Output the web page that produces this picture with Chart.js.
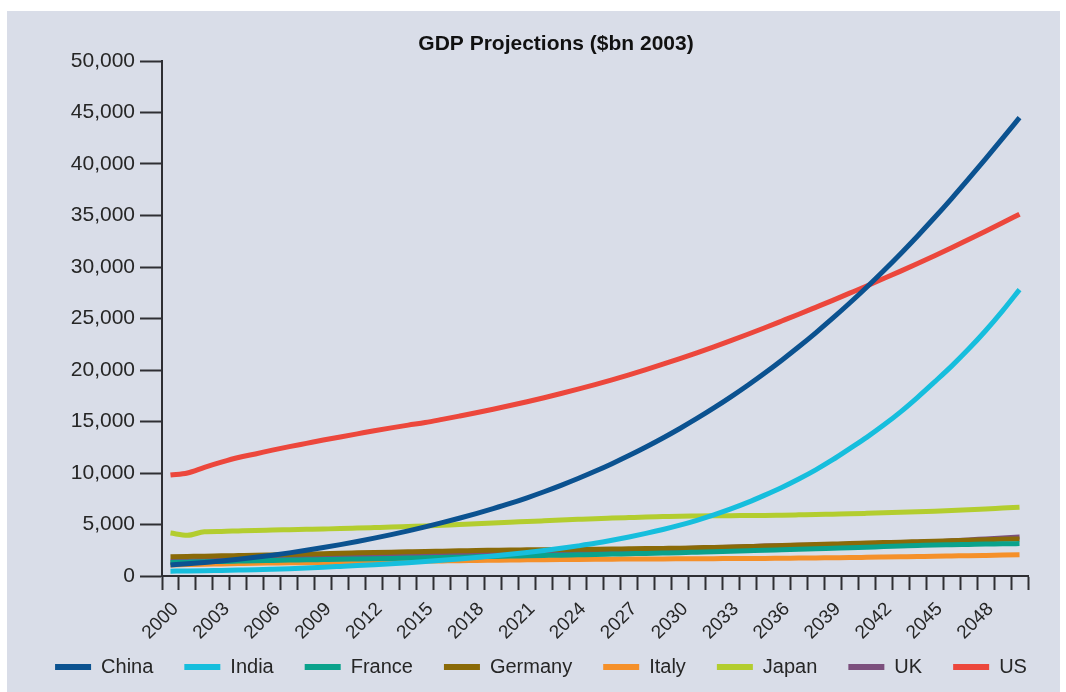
<!DOCTYPE html>
<html>
<head>
<meta charset="utf-8">
<title>GDP Projections</title>
<script src="https://cdn.jsdelivr.net/npm/chart.js@4"></script>
<style>
  html, body { margin: 0; padding: 0; background: #ffffff; overflow: hidden; }
  #panel { position: absolute; left: 7px; top: 11px; width: 1053px; height: 681px; background: #d9dde8; overflow: hidden; }
  canvas { display: block; }
</style>
</head>
<body>
<div id="panel"><canvas id="gdp" width="1053" height="697"></canvas></div>
<script>
// Years on the horizontal axis and the ones that carry a label
const years = [
  2000, 2001, 2002, 2003, 2004, 2005, 2006, 2007, 2008, 2009,
  2010, 2011, 2012, 2013, 2014, 2015, 2016, 2017, 2018, 2019,
  2020, 2021, 2022, 2023, 2024, 2025, 2026, 2027, 2028, 2029,
  2030, 2031, 2032, 2033, 2034, 2035, 2036, 2037, 2038, 2039,
  2040, 2041, 2042, 2043, 2044, 2045, 2046, 2047, 2048, 2049, 2050
];
const labelledYears = [2000, 2003, 2006, 2009, 2012, 2015, 2018, 2021, 2024, 2027,
                       2030, 2033, 2036, 2039, 2042, 2045, 2048];

// GDP, $bn (2003 prices), one value per year 2000-2050
const china = [
  1078, 1191, 1320, 1465, 1629, 1813, 2018, 2244, 2491, 2758,
  3045, 3350, 3675, 4020, 4386, 4772, 5178, 5608, 6062, 6541,
  7045, 7595, 8180, 8801, 9462, 10162, 10904, 11689, 12519, 13395,
  14319, 15293, 16318, 17395, 18525, 19711, 20953, 22252, 23609, 25026,
  26502, 28039, 29637, 31297, 33018, 34801, 36646, 38551, 40498, 42482, 44500
];
const india = [
  469, 490, 515, 545, 573, 604, 655, 715, 780, 850,
  929, 1010, 1098, 1193, 1297, 1411, 1528, 1655, 1793, 1942,
  2104, 2285, 2480, 2693, 2925, 3174, 3465, 3785, 4135, 4515,
  4935, 5410, 5935, 6510, 7145, 7854, 8600, 9420, 10310, 11290,
  12367, 13460, 14650, 15940, 17350, 18847, 20380, 22030, 23810, 25740, 27803
];
const france = [
  1311, 1345, 1380, 1417, 1453, 1489, 1515, 1542, 1568, 1595,
  1622, 1651, 1680, 1709, 1738, 1767, 1800, 1832, 1865, 1897,
  1930, 1962, 1994, 2025, 2057, 2089, 2125, 2160, 2196, 2231,
  2267, 2312, 2358, 2403, 2449, 2494, 2545, 2596, 2646, 2697,
  2748, 2801, 2855, 2908, 2962, 3015, 3042, 3068, 3095, 3121, 3148
];
const germany = [
  1875, 1900, 1925, 1955, 1983, 2011, 2050, 2090, 2130, 2170,
  2212, 2247, 2282, 2317, 2352, 2386, 2414, 2442, 2470, 2497,
  2524, 2540, 2556, 2572, 2588, 2604, 2622, 2641, 2660, 2678,
  2697, 2737, 2778, 2819, 2861, 2903, 2951, 3000, 3049, 3098,
  3147, 3194, 3241, 3288, 3334, 3381, 3425, 3470, 3514, 3558, 3603
];
const italy = [
  1078, 1110, 1142, 1173, 1205, 1236, 1256, 1276, 1297, 1317,
  1337, 1359, 1381, 1403, 1425, 1447, 1468, 1489, 1511, 1532,
  1553, 1567, 1582, 1596, 1611, 1625, 1634, 1643, 1653, 1662,
  1671, 1678, 1686, 1693, 1701, 1708, 1724, 1740, 1756, 1772,
  1788, 1813, 1838, 1862, 1887, 1912, 1942, 1972, 2001, 2031, 2061
];
const japan = [
  4176, 3950, 4300, 4330, 4380, 4427, 4460, 4495, 4530, 4565,
  4601, 4650, 4700, 4750, 4805, 4858, 4930, 5000, 5075, 5150,
  5221, 5290, 5360, 5430, 5500, 5567, 5620, 5670, 5720, 5765,
  5810, 5825, 5840, 5855, 5868, 5882, 5910, 5940, 5970, 6005,
  6039, 6085, 6135, 6190, 6240, 6297, 6365, 6440, 6515, 6595, 6673
];
const uk = [
  1437, 1485, 1535, 1585, 1636, 1688, 1725, 1762, 1800, 1837,
  1875, 1915, 1955, 1996, 2036, 2077, 2118, 2159, 2200, 2242,
  2283, 2312, 2342, 2371, 2400, 2430, 2474, 2518, 2561, 2605,
  2649, 2699, 2750, 2800, 2851, 2901, 2939, 2976, 3014, 3051,
  3089, 3136, 3183, 3229, 3276, 3323, 3415, 3507, 3598, 3690, 3782
];
const us = [
  9800, 10000, 10550, 11050, 11500, 11850, 12220, 12560, 12880, 13200,
  13500, 13800, 14100, 14380, 14650, 14900, 15205, 15524, 15850, 16191,
  16547, 16919, 17308, 17715, 18140, 18584, 19049, 19535, 20043, 20564,
  21109, 21668, 22253, 22854, 23471, 24105, 24756, 25412, 26085, 26763,
  27459, 28159, 28877, 29599, 30339, 31097, 31874, 32671, 33471, 34291, 35131
];

// Vertical axis ticks
const yMin = 0, yMax = 50000, yStep = 5000;

const seriesNames  = ['China', 'India', 'France', 'Germany', 'Italy', 'Japan', 'UK', 'US'];
const seriesValues = [china, india, france, germany, italy, japan, uk, us];
const seriesColors = ['#0b5290', '#16bedd', '#0aa28c', '#8a6a08', '#f5902a', '#b3cd2f', '#7c4f7d', '#ec473c'];

const chartTitle = 'GDP Projections ($bn 2003)';

Chart.defaults.font.family = '"Liberation Sans", Arial, Helvetica, sans-serif';
Chart.defaults.color = '#262626';

const AXIS = '#2e2e33';

// Title drawn a little right of the canvas centre, above the plot
const titlePlugin = {
  id: 'panelTitle',
  afterDraw(chart, args, opts) {
    const ctx = chart.ctx;
    ctx.save();
    ctx.font = 'bold 21px "Liberation Sans", Arial, sans-serif';
    ctx.fillStyle = '#111111';
    ctx.textAlign = 'center';
    ctx.textBaseline = 'middle';
    ctx.fillText(opts.text, opts.x, opts.y);
    ctx.restore();
  }
};

// The legend sits tucked up under the rotated year labels
const legendLift = {
  id: 'legendLift',
  afterLayout(chart, args, opts) {
    const lg = chart.legend;
    if (lg) { lg.top -= opts.by; lg.bottom -= opts.by; }
  }
};

new Chart(document.getElementById('gdp'), {
  type: 'line',
  data: {
    labels: years,
    datasets: seriesNames.map((name, i) => ({
      label: name,
      data: seriesValues[i],
      borderColor: seriesColors[i],
      backgroundColor: seriesColors[i],
      borderWidth: 5,
      pointRadius: 0,
      pointHoverRadius: 0,
      cubicInterpolationMode: 'monotone',
      fill: false
    }))
  },
  plugins: [titlePlugin, legendLift],
  options: {
    responsive: false,
    animation: false,
    events: [],
    layout: { padding: { left: 15, right: 0, top: 50, bottom: 5 } },
    plugins: {
      panelTitle: { text: chartTitle, x: 549, y: 33 },
      legendLift: { by: 16 },
      title: { display: false },
      legend: {
        position: 'bottom',
        labels: {
          boxWidth: 36,
          boxHeight: 6,
          padding: 31,
          color: '#262626',
          font: { size: 20 },
          generateLabels(chart) {
            return Chart.defaults.plugins.legend.labels.generateLabels(chart)
              .map(item => Object.assign(item, { lineWidth: 0 }));
          }
        }
      },
      tooltip: { enabled: false }
    },
    scales: {
      x: {
        offset: true,
        grid: {
          offset: true,
          drawOnChartArea: false,
          drawTicks: true,
          tickLength: 14,
          tickWidth: 2,
          tickColor: AXIS
        },
        border: { display: true, color: AXIS, width: 2 },
        ticks: {
          autoSkip: false,
          maxRotation: 45,
          minRotation: 45,
          padding: 8,
          labelOffset: 5,
          color: '#262626',
          font: { size: 19 },
          callback(value, index) {
            const y = years[index];
            return labelledYears.includes(y) ? String(y) : '';
          }
        },
        afterFit(scale) { scale.height = 66; }
      },
      y: {
        min: yMin,
        max: yMax,
        grid: {
          drawOnChartArea: false,
          drawTicks: true,
          tickLength: 22,
          tickWidth: 2,
          tickColor: AXIS
        },
        border: { display: true, color: AXIS, width: 2 },
        ticks: {
          stepSize: yStep,
          padding: 5,
          color: '#262626',
          font: { size: 21 },
          callback(v) { return Number(v).toLocaleString('en-US'); }
        },
        afterFit(scale) { scale.width = 140; }
      },
      // empty margin on the right of the plot
      gutter: {
        type: 'linear',
        position: 'right',
        display: true,
        grid: { display: false },
        border: { display: false },
        ticks: { display: false },
        afterFit(scale) { scale.width = 32; }
      }
    }
  }
});
</script>
</body>
</html>
